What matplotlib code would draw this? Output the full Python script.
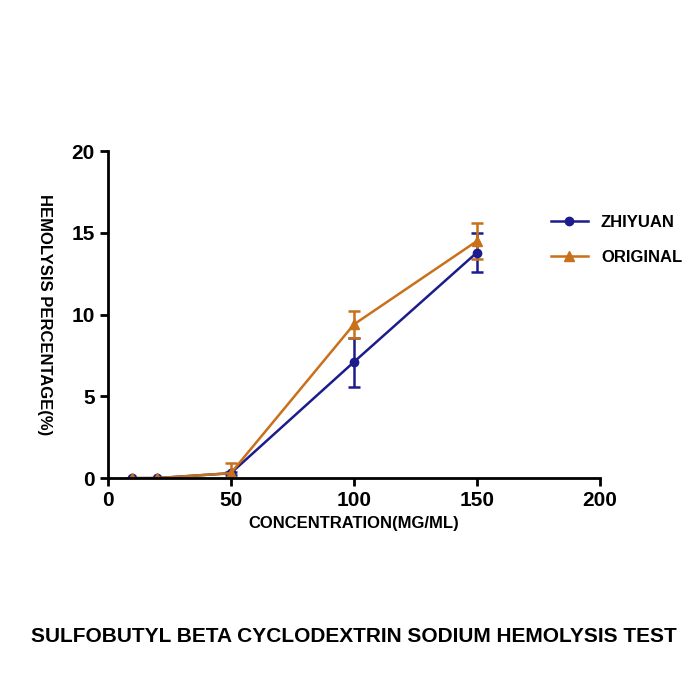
import matplotlib
matplotlib.use("Agg")
import matplotlib.pyplot as plt
from matplotlib.lines import Line2D

plt.rcParams['font.family'] = ['Liberation Sans Narrow', 'Liberation Sans', 'DejaVu Sans']
plt.rcParams['font.weight'] = 'bold'

x = [10, 20, 50, 100, 150]
zhiyuan = [0.0, 0.0, 0.3, 7.1, 13.8]
zhiyuan_err = [0.0, 0.0, 0.1, 1.5, 1.2]
original = [0.0, 0.0, 0.3, 9.4, 14.5]
original_err = [0.0, 0.0, 0.6, 0.8, 1.1]

fig = plt.figure(figsize=(7, 7), dpi=100)
ax = fig.add_axes([0.154, 0.317, 0.703, 0.467])

c1 = '#1c1c8c'
c2 = '#c8701a'
ax.errorbar(x, zhiyuan, yerr=zhiyuan_err, color=c1, marker='o', markersize=6,
            linewidth=1.8, capsize=4, elinewidth=1.8, capthick=1.8)
ax.errorbar(x, original, yerr=original_err, color=c2, marker='^', markersize=7,
            linewidth=1.8, capsize=4, elinewidth=1.8, capthick=1.8)

ax.set_xlim(0, 200)
ax.set_ylim(0, 20)
ax.set_xticks([0, 50, 100, 150, 200])
ax.set_yticks([0, 5, 10, 15, 20])
for s in ['top', 'right']:
    ax.spines[s].set_visible(False)
for s in ['left', 'bottom']:
    ax.spines[s].set_linewidth(2)
ax.tick_params(width=2, length=6, labelsize=15)
ax.set_xlabel('CONCENTRATION(MG/ML)', fontsize=12, fontweight='bold')
fig.text(0.064, 0.55, 'HEMOLYSIS PERCENTAGE(%)', rotation=-90, ha='center', va='center',
         fontsize=12, fontweight='bold')

handles = [Line2D([], [], color=c1, marker='o', markersize=6, linewidth=1.8),
           Line2D([], [], color=c2, marker='^', markersize=7, linewidth=1.8)]
ax.legend(handles, ['ZHIYUAN', 'ORIGINAL'], loc='upper left', bbox_to_anchor=(0.87, 0.85),
          frameon=False, fontsize=12, handlelength=2.2, labelspacing=1.2)

fig.text(0.505, 0.09, 'SULFOBUTYL BETA CYCLODEXTRIN SODIUM HEMOLYSIS TEST',
         ha='center', va='center', fontsize=15, fontweight='bold')

fig.savefig('out.png', dpi=100)
